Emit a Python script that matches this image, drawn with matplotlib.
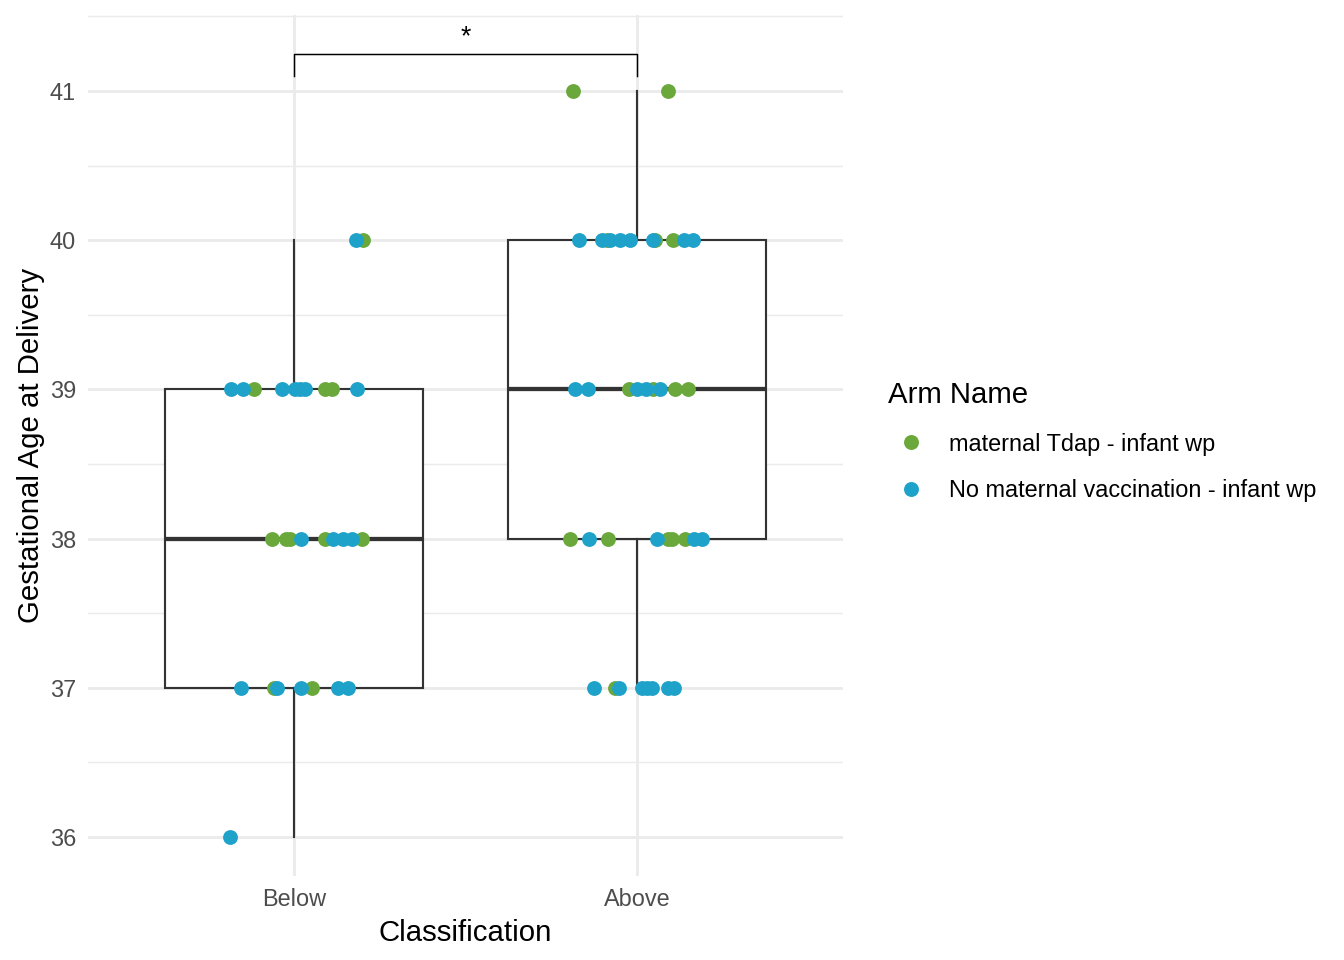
import matplotlib
matplotlib.use("Agg")
import matplotlib.pyplot as plt
from matplotlib.lines import Line2D
import numpy as np

plt.rcParams['font.family'] = ['Liberation Sans', 'DejaVu Sans']

categories = ["Below", "Above"]
arm_names = ["maternal Tdap - infant wp", "No maternal vaccination - infant wp"]
arm_colors = ["#6BA83C", "#1FA2C9"]

# Gestational age values per category and arm, with horizontal jitter offsets (category units)
below_tdap_y = [40, 39, 39, 39, 38, 38, 38, 38, 38, 37, 37]
below_tdap_dx = [0.200, -0.117, 0.090, 0.111, -0.064, -0.023, -0.012, 0.090, 0.198, -0.058, 0.052]
below_none_y = [40, 39, 39, 39, 39, 39, 39, 39, 38, 38, 38, 38, 37, 37, 37, 37, 37, 36]
below_none_dx = [0.181, -0.184, -0.149, -0.035, 0.003, 0.017, 0.032, 0.184,
                 0.020, 0.114, 0.143, 0.169, -0.155, -0.050, 0.020, 0.128, 0.157, -0.187]

above_tdap_y = [41, 41, 40, 40, 40, 39, 39, 39, 39, 38, 38, 38, 38, 38, 37]
above_tdap_dx = [-0.187, 0.090, -0.087, 0.052, 0.105, -0.023, 0.047, 0.111, 0.149,
                 -0.195, -0.085, 0.090, 0.102, 0.140, -0.064]
above_none_y = [40, 40, 40, 40, 40, 40, 40, 40, 39, 39, 39, 39, 39, 38, 38, 38, 38,
                37, 37, 37, 37, 37, 37, 37]
above_none_dx = [-0.169, -0.102, -0.079, -0.050, -0.020, 0.047, 0.137, 0.163,
                 -0.181, -0.143, 0.000, 0.026, 0.067, -0.140, 0.058, 0.166, 0.190,
                 -0.125, -0.052, 0.015, 0.029, 0.044, 0.090, 0.108]

yticks = [36, 37, 38, 39, 40, 41]
sig_label = "*"

fig = plt.figure(figsize=(7, 5), dpi=192)
ax = fig.add_axes([88/1344, 1-876/960, (843-88)/1344, (876-15)/960])

# grid
for y in yticks:
    ax.axhline(y, color="#EBEBEB", lw=1.07, zorder=0)
for y in np.arange(35.5, 42, 1.0):
    ax.axhline(y, color="#EBEBEB", lw=0.53, zorder=0)
for i in range(len(categories)):
    ax.axvline(i + 1, color="#EBEBEB", lw=1.07, zorder=0)

groups = [below_tdap_y + below_none_y, above_tdap_y + above_none_y]
bp = ax.boxplot(groups, positions=[1, 2], widths=0.75, whis=1.5, patch_artist=True,
                showcaps=False, showfliers=True, zorder=2,
                boxprops=dict(facecolor="white", edgecolor="#333333", linewidth=0.8),
                whiskerprops=dict(color="#333333", linewidth=0.8),
                medianprops=dict(color="#333333", linewidth=1.6, solid_capstyle="butt"),
                flierprops=dict(marker="o", markerfacecolor="#333333", markeredgecolor="none",
                                markersize=0))

ms = 31
ax.scatter(1 + np.array(below_tdap_dx), below_tdap_y, s=ms, color=arm_colors[0], zorder=3, linewidths=0)
ax.scatter(2 + np.array(above_tdap_dx), above_tdap_y, s=ms, color=arm_colors[0], zorder=3, linewidths=0)
ax.scatter(1 + np.array(below_none_dx), below_none_y, s=ms, color=arm_colors[1], zorder=4, linewidths=0)
ax.scatter(2 + np.array(above_none_dx), above_none_y, s=ms, color=arm_colors[1], zorder=4, linewidths=0)

# significance bracket
ax.plot([1, 1, 2, 2], [41.1, 41.25, 41.25, 41.1], color="black", lw=0.55, zorder=5)
ax.text(1.5, 41.27, sig_label, ha="center", va="bottom", fontsize=10, color="black")

ax.set_xlim(0.4, 2.6)
ax.set_ylim(35.738, 41.509)
ax.set_xticks([1, 2])
ax.set_xticklabels(categories)
ax.set_yticks(yticks)
ax.tick_params(length=0, labelsize=8.8, labelcolor="#4D4D4D", pad=4.5)
for s in ax.spines.values():
    s.set_visible(False)
ax.set_xlabel("Classification", fontsize=11, labelpad=3)
ax.set_ylabel("Gestational Age at Delivery", fontsize=11, labelpad=1.75)

handles = [Line2D([], [], marker="o", linestyle="none", markersize=5.6,
                  markerfacecolor=c, markeredgecolor="none") for c in arm_colors]
leg = fig.legend(handles, arm_names, title="Arm Name", loc="center left",
                 bbox_to_anchor=(879/1344, 0.540), frameon=False,
                 fontsize=8.8, title_fontsize=11, alignment="left",
                 handletextpad=0.68, labelspacing=1.0, handlelength=1.9,
                 borderaxespad=0)

fig.savefig("out.png", dpi=192)
